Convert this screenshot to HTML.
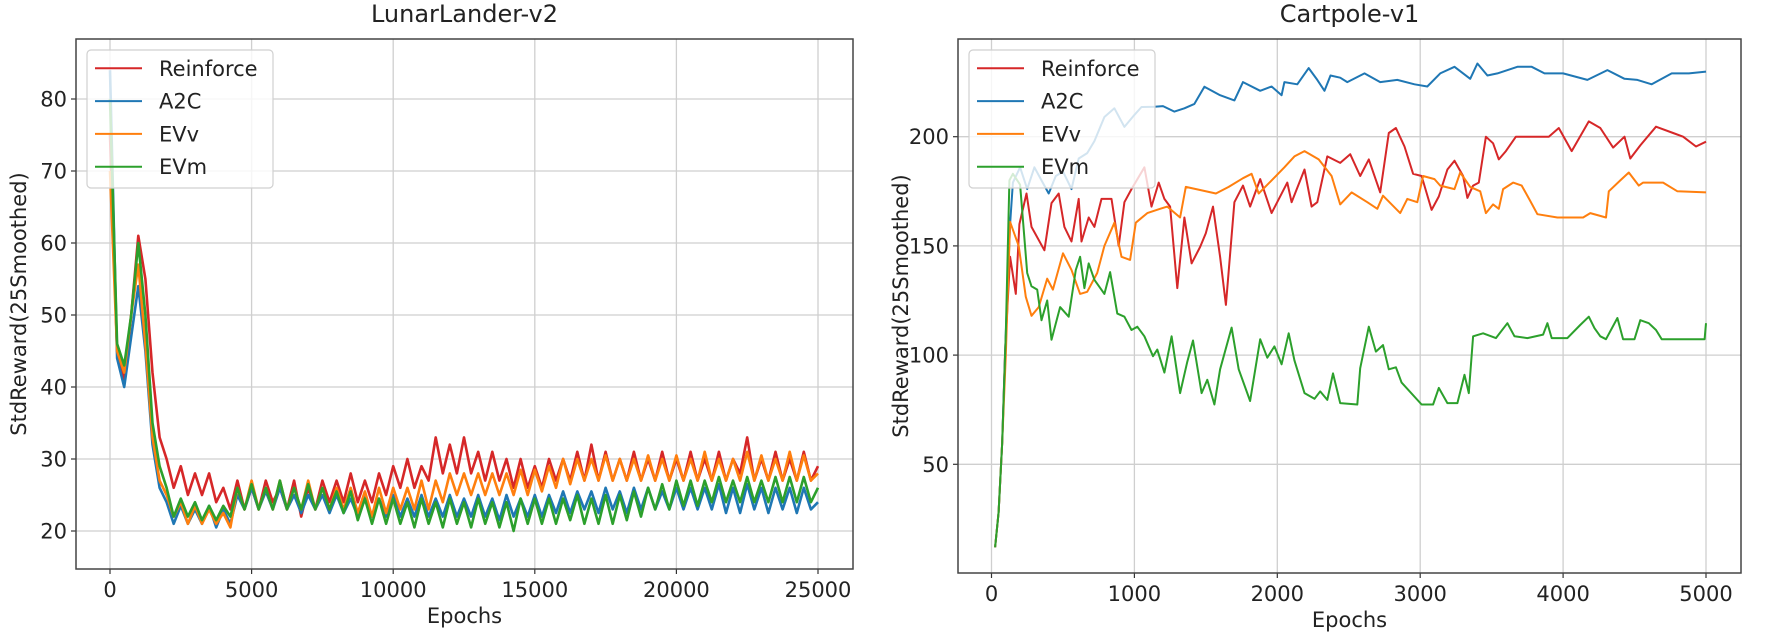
<!DOCTYPE html>
<html><head><meta charset="utf-8"><style>
html,body{margin:0;padding:0;background:#fff;}
svg{display:block;font-family:"DejaVu Sans","Liberation Sans",sans-serif;}
</style></head><body>
<svg id="fig" width="1766" height="640" viewBox="0 0 1766 640" xmlns="http://www.w3.org/2000/svg">
<defs>
<clipPath id="clipL"><rect x="76" y="39" width="777" height="530"/></clipPath>
<clipPath id="clipR"><rect x="958" y="39" width="783" height="534"/></clipPath>
</defs>
</svg>
<script>
// ---------- LunarLander-v2 data (sampled every 250 epochs) ----------
const lunarStep = 250;
const lunarReinforce = [75,45,41,50,61,55,42,33,
30,26,29,25,28,25,28,24,26,23,
27,23,26,23,27,24,26,23,27,22,
26,23,27,24,27,24,28,24,27,24,
28,25,29,26,30,26,29,27,33,28,
32,28,33,28,31,27,31,27,30,26,
30,26,29,26,30,27,30,27,31,27,
32,27,31,27,30,27,31,27,30,27,
31,27,30,27,31,27,30,27,31,27,
30,28,33,27,30,27,31,27,30,27,
31,27,29];
const lunarA2C = [84,44,40,47,54,45,32,26,
24,21,23.5,21,23,21,23.5,20.5,23,21,
25,23,26,23,25.5,23,26,23,25,22.5,
25,23,25,22.5,25,22.5,24.5,22,25,22,
24.5,22,25,22,24.5,22,25,22,24.5,22,
25,22,24.5,22,25,22,24.5,21.5,25,22,
24.5,22,25,22,25,22.5,25.5,22.5,25.5,23,
25.5,22.5,26,23,25.5,22.5,26,23,26,23,
25.5,23,26,23,26,23,26,23,26.5,22.5,
26,22.5,26.5,23,26,22.5,26,23,26,22.5,
26,23,24];
const lunarEVv = [70,45,42,50,57,46,33,27,
25,22,24,21,23.5,21,23,21,22.5,20.5,
26,23,27,23,26,23,27,23,26,23,
27,23,26,23,26,23,26,22.5,25.5,22,
26,22.5,26,23,26,23,27,23,27,24,
28,25,28,25,28,25,28,25,28,25,
28.5,25,28.5,25.5,29,26,30,26.5,30,27,
30,27,30.5,27,30,27,30,27,30.5,27,
30,27,30.5,27,30,27,31,27,30,27,
30,27,31,27,30.5,27,30,27,31,27,
30.5,27,28];
const lunarEVm = [80,46,43,50,60,50,35,29,
26,22,24.5,22,24,21.5,23.5,21.5,23.5,22,
26,23,26.5,23,26,23,27,23,26,23,
26.5,23,26,23,25.5,22.5,25.5,21.5,24.5,21,
24.5,21,24.5,21,24,20.5,24.5,21,24,20.5,
24.5,21,24,20.5,24.5,21,24,20.5,24,20,
24.5,21,24.5,21,24.5,21,24.5,21.5,25,21,
24.5,21,25,21,25,21.5,25.5,22,26,23,
26.5,23,27,23.5,27,23.5,27,24,27.5,24,
27,24,27.5,24,27,24,27.5,24,27.5,24,
27.5,24,26];
const lunarXTicks = [0,5000,10000,15000,20000,25000];
const lunarYTicks = [20,30,40,50,60,70,80];

// ---------- Cartpole-v1 data (epoch, value pairs) ----------
const cartReinforceEp = [25,50,75,95,130,170,195,245,280,370,420,470,510,560,610,630,680,720,770,840,890,930,980,1070,1120,1170,1210,1250,1300,1350,1400,1460,1500,1550,1600,1640,1700,1760,1810,1880,1960,2070,2100,2190,2240,2280,2350,2440,2510,2580,2640,2720,2780,2830,2890,2950,3010,3080,3130,3190,3240,3300,3330,3370,3410,3460,3510,3550,3600,3670,3790,3900,3970,4060,4180,4260,4350,4430,4470,4540,4650,4770,4840,4930,5000];
const cartReinforceVal = [12,28,60,102,145,128,160,174,158.7,148,169.6,174,158.7,152,171.5,152,163,158.7,171.5,171.5,150,170,176,186,168,179,171.5,168,130.7,163,142,149.5,155.8,168,145,123,170,177.6,168,180.6,165,179,170,185,168,170,191,188,192,182,189.6,174.5,201.7,204,195.5,183,182,166.5,172.6,185,189,182,172,177.6,179,200,197,189.6,193.4,200,200,200,204,193.4,207,204,195,200,190,196,204.6,201.7,200,195.5,197.7];
const cartA2CEp = [25,50,75,100,130,150,200,250,300,350,400,450,500,560,610,670,720,790,860,930,1000,1050,1140,1200,1280,1350,1420,1490,1600,1700,1760,1880,1960,2030,2050,2140,2220,2280,2330,2372,2440,2490,2610,2720,2840,2960,3050,3140,3240,3350,3400,3470,3540,3680,3780,3870,4000,4170,4310,4430,4520,4620,4760,4880,5000];
const cartA2CVal = [12,28,60,110,160,179,186,176,186,180,174,182,184,176,190,192.5,198,209,213,204.5,210,213.6,213.7,214,211.5,213,215,222.9,219,216.6,225,221,223,219,225,224,231.4,226,221,228,227,225,229,225,226,224,223,229,232,226.5,233.5,228,229,232,232,229,229,226,230.5,226.5,226,224,229,229,229.8];
const cartEVvEp = [25,50,75,100,130,190,240,280,330,390,430,500,560,620,670,740,790,860,910,970,1010,1090,1180,1230,1320,1360,1460,1570,1660,1760,1820,1870,1960,2050,2120,2190,2290,2380,2440,2520,2630,2700,2740,2860,2910,2980,3020,3100,3140,3240,3280,3350,3420,3460,3510,3550,3580,3650,3710,3770,3820,3960,4140,4190,4300,4320,4400,4460,4530,4560,4700,4800,5000];
const cartEVvVal = [12,28,60,100,161,150,126.7,118,122,135,130,146.6,139,128,129,137.6,150,160.6,145,143.6,160.6,165,167,168,163,177,175.6,174,177,181,183,174,180,186,191,193.4,189.6,182,169,174.5,170,167,173,165,171.5,170,182,180.6,177.6,176,183.6,177,175,165,169,167,176,179,177.6,170.6,164.5,163,163,165,163,175,180,183.6,177.6,179,179,175,174.5];
const cartEVmEp = [25,50,75,100,125,150,200,250,280,320,350,390,420,480,540,590,620,650,680,720,790,830,880,930,980,1020,1070,1130,1160,1210,1260,1320,1370,1410,1470,1510,1560,1600,1680,1730,1810,1880,1930,1980,2030,2080,2120,2190,2260,2300,2350,2390,2440,2560,2580,2640,2690,2740,2780,2830,2870,3010,3090,3130,3190,3260,3310,3340,3370,3440,3530,3610,3660,3750,3860,3890,3920,4030,4120,4180,4220,4260,4300,4380,4420,4500,4540,4600,4650,4690,4990,5000];
const cartEVmVal = [12,28,60,110,180,183,178,137.6,131.5,130,116,125,107,122,117.6,139,145,130.7,142,134.5,128,138,119,117.6,111.5,113,108.6,99.5,102.5,92,108.6,82.6,97,106.7,82.6,88.7,77.4,93.5,112.6,93.5,79,107.3,98.8,104,95.8,110,97.6,82.6,80,83.4,79.5,91.6,78,77.4,94,113,101.6,104.6,93.5,94.4,87.4,77.4,77.4,85,78,78,91,82.6,108.6,110,107.8,114.6,108.6,107.8,109.4,114.6,107.8,107.8,113.8,117.6,112.3,108.6,107.3,117,107.3,107.3,116,114.6,111.5,107.3,107.3,114.6];
const cartXTicks = [0,1000,2000,3000,4000,5000];
const cartYTicks = [50,100,150,200];

const seriesNames = ['Reinforce','A2C','EVv','EVm'];
const seriesColors = ['#d62728','#1f77b4','#ff7f0e','#2ca02c'];

const NS = 'http://www.w3.org/2000/svg';
const fig = document.getElementById('fig');
function mk(tag, attrs, parent, text){
  const e = document.createElementNS(NS, tag);
  for (const k in attrs) e.setAttribute(k, attrs[k]);
  if (text !== undefined) e.textContent = text;
  (parent || fig).appendChild(e);
  return e;
}

const L = {x0:76, x1:853, y0:39, y1:569,
  sx: e => 110 + e * (708/25000),
  sy: v => 531 - (v - 20) * 7.2};
const R = {x0:958, x1:1741, y0:39, y1:573,
  sx: e => 991.5 + e * (714.5/5000),
  sy: v => 464.3 - (v - 50) * 2.184};

function drawFrame(A, key, title, xticks, yticks){
  const g = mk('g', {});
  
  
  xticks.forEach(t => {
    const l = mk('line', {x1:A.sx(t), x2:A.sx(t), y1:A.y0, y2:A.y1, stroke:'#cfcfcf', 'stroke-width':1.3}, g);
    
    
  });
  yticks.forEach(t => {
    const l = mk('line', {x1:A.x0, x2:A.x1, y1:A.sy(t), y2:A.sy(t), stroke:'#cfcfcf', 'stroke-width':1.3}, g);
    
    
  });
  xticks.forEach(t => {
    mk('line', {x1:A.sx(t), x2:A.sx(t), y1:A.y1, y2:A.y1+5, stroke:'#333', 'stroke-width':1.2}, g);
    const tx = mk('text', {x:A.sx(t), y:A.y1+28, 'text-anchor':'middle', 'font-size':21, fill:'#222'}, g, String(t));
    
    
  });
  yticks.forEach(t => {
    mk('line', {x1:A.x0-5, x2:A.x0, y1:A.sy(t), y2:A.sy(t), stroke:'#333', 'stroke-width':1.2}, g);
    const ty = mk('text', {x:A.x0-9, y:A.sy(t)+7.5, 'text-anchor':'end', 'font-size':21, fill:'#222'}, g, String(t));
    
    
  });
  const cx = (A.x0 + A.x1)/2, cy = (A.y0 + A.y1)/2;
  const ti = mk('text', {x:cx, y:22, 'text-anchor':'middle', 'font-size':24, fill:'#222'}, g, title);
  
  
  const xl = mk('text', {x:cx, y:A.y1+54, 'text-anchor':'middle', 'font-size':21, fill:'#222'}, g, 'Epochs');
  
  
  const yx = A.x0 - 50;
  const yl = mk('text', {x:yx, y:cy, 'text-anchor':'middle', 'font-size':21, fill:'#222', transform:'rotate(-90 '+yx+' '+cy+')'}, g, 'StdReward(25Smoothed)');
  
  
  return g;
}

function drawLine(A, g, xs, ys, color, name, clipId, sw){
  let d = '';
  for (let i = 0; i < ys.length; i++) d += (i ? 'L' : 'M') + A.sx(xs[i]).toFixed(1) + ' ' + A.sy(ys[i]).toFixed(1);
  const p = mk('path', {d:d, fill:'none', stroke:color, 'stroke-width':sw, 'stroke-linejoin':'round', 'clip-path':'url(#'+clipId+')'}, g);
  
  
}

function drawSpines(A, g){
  const r = mk('rect', {x:A.x0, y:A.y0, width:A.x1-A.x0, height:A.y1-A.y0, fill:'none', stroke:'#444', 'stroke-width':1.5}, g);
  
  
}

function drawLegend(g, bx, key){
  const lg = mk('g', {}, g);
  
  
  mk('rect', {x:bx, y:50, width:186, height:138, rx:4, fill:'rgba(255,255,255,0.8)', stroke:'#d0d0d0', 'stroke-width':1.2}, lg);
  seriesNames.forEach((n, i) => {
    const y = 68.3 + i * 32.8;
    const e = mk('g', {}, lg);
    
    
    mk('line', {x1:bx+8, x2:bx+55, y1:y, y2:y, stroke:seriesColors[i], 'stroke-width':2}, e);
    mk('text', {x:bx+72, y:y+7.5, 'font-size':21, fill:'#222'}, e, n);
  });
}

const gL = drawFrame(L, 'lunarlander', 'LunarLander-v2', lunarXTicks, lunarYTicks);
const lunarSeries = [lunarReinforce, lunarA2C, lunarEVv, lunarEVm];
lunarSeries.forEach((vals, i) => {
  const xs = vals.map((_, j) => j * lunarStep);
  drawLine(L, gL, xs, vals, seriesColors[i], 'lunarlander-line-' + seriesNames[i].toLowerCase(), 'clipL', 2.6);
});
drawSpines(L, gL);
drawLegend(gL, 87, 'lunarlander');

const gR = drawFrame(R, 'cartpole', 'Cartpole-v1', cartXTicks, cartYTicks);
const cartEps = [cartReinforceEp, cartA2CEp, cartEVvEp, cartEVmEp];
const cartVals = [cartReinforceVal, cartA2CVal, cartEVvVal, cartEVmVal];
cartVals.forEach((vals, i) => {
  drawLine(R, gR, cartEps[i], vals, seriesColors[i], 'cartpole-line-' + seriesNames[i].toLowerCase(), 'clipR', 2);
});
drawSpines(R, gR);
drawLegend(gR, 969, 'cartpole');
</script>
</body></html>
